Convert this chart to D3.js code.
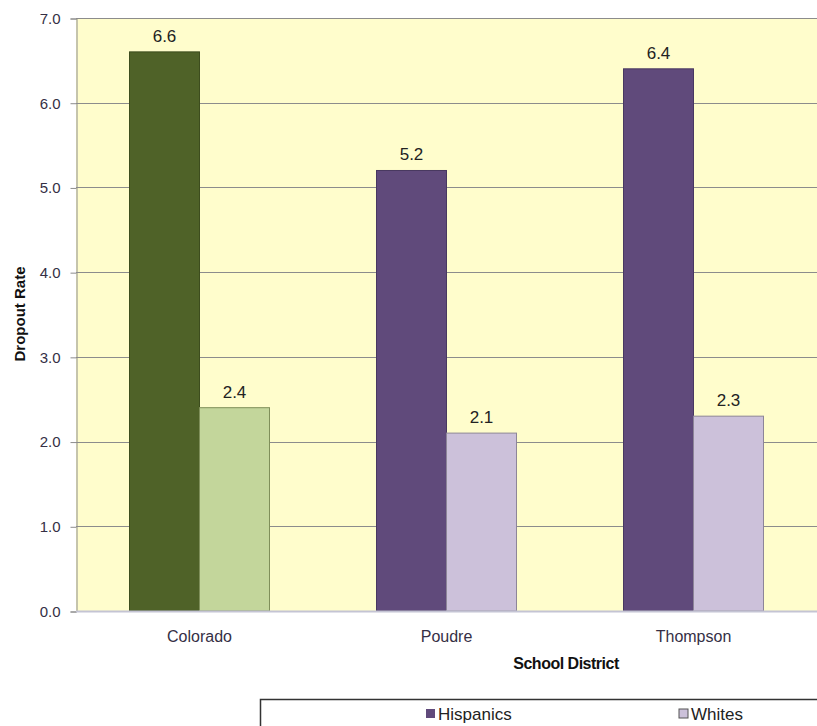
<!DOCTYPE html>
<html><head><meta charset="utf-8">
<script src="https://cdn.jsdelivr.net/npm/d3@7"></script>
<style>body{margin:0;background:#fff}svg{display:block;font-family:Arial,"Liberation Sans",sans-serif}</style>
</head><body><svg id="c" width="817" height="726"></svg>
<script>
const categories = ["Colorado", "Poudre", "Thompson"];
const seriesNames = ["Hispanics", "Whites"];
const hispanics = [6.6, 5.2, 6.4];
const whites = [2.4, 2.1, 2.3];
const yTicks = [0, 1, 2, 3, 4, 5, 6, 7];

const svg = d3.select("#c");
const m = {left: 76, right: 817, top: 18, bottom: 611};
const x = d3.scaleBand().domain(categories).range([m.left, m.right]);
const y = d3.scaleLinear().domain([0, 7]).range([m.bottom, m.top]);
const barW = 70;

svg.append("rect").attr("x", m.left).attr("y", m.top)
  .attr("width", m.right - m.left).attr("height", m.bottom - m.top).attr("fill", "#FFFDCC");

// gridlines
svg.append("g").selectAll("line").data(yTicks.filter(d => d > 0)).join("line")
  .attr("x1", m.left).attr("x2", m.right)
  .attr("y1", d => Math.round(y(d)) + 0.5).attr("y2", d => Math.round(y(d)) + 0.5)
  .attr("stroke", "#8c8c8c").attr("stroke-width", 1);

// y axis
const yAxis = d3.axisLeft(y).tickValues(yTicks).tickFormat(d3.format(".1f")).tickSize(6).tickPadding(10);
const ga = svg.append("g").attr("transform", `translate(${m.left + 0.5},0.5)`).call(yAxis);
ga.select(".domain").attr("stroke", "#8c8c8c");
ga.selectAll(".tick line").attr("stroke", "#8c8c8c");
ga.selectAll("text").attr("font-size", 15).attr("fill", "#352f45").attr("font-family", "Arial,'Liberation Sans',sans-serif");

const colors = {
  Colorado: ["#4F6228", "#C3D69B"],
};
const defaultColors = ["#604A7B", "#CCC1DA"];
const strokeColors = {Colorado: ["#3d4d1e", "#7f8f5a"]};
const defaultStroke = ["#483860", "#8d8598"];

const data = [];
categories.forEach((c, i) => {
  [hispanics[i], whites[i]].forEach((v, j) => {
    data.push({cat: c, j, v});
  });
});

const cx = c => x(c) + x.bandwidth() / 2;
svg.append("g").selectAll("rect").data(data).join("rect")
  .attr("x", d => cx(d.cat) + (d.j === 0 ? -barW : 0))
  .attr("y", d => y(d.v))
  .attr("width", barW)
  .attr("height", d => y(0) - y(d.v))
  .attr("fill", d => (colors[d.cat] || defaultColors)[d.j])
  .attr("stroke", d => (strokeColors[d.cat] || defaultStroke)[d.j])
  .attr("stroke-width", 1);

svg.append("g").selectAll("text").data(data).join("text")
  .attr("x", d => cx(d.cat) + (d.j === 0 ? -barW / 2 : barW / 2))
  .attr("y", d => y(d.v) - 10)
  .attr("text-anchor", "middle").attr("font-size", 17).attr("fill", "#222")
  .text(d => d.v.toFixed(1));

// bottom axis line
svg.append("line").attr("x1", m.left).attr("x2", m.right)
  .attr("y1", m.bottom + 0.5).attr("y2", m.bottom + 0.5).attr("stroke", "#c4c4d4").attr("stroke-width", 2);

// x labels
svg.append("g").selectAll("text").data(categories).join("text")
  .attr("x", d => cx(d)).attr("y", 642).attr("text-anchor", "middle")
  .attr("font-size", 16).attr("fill", "#352f45").text(d => d);

svg.append("text").attr("x", 566).attr("y", 669).attr("text-anchor", "middle")
  .attr("font-size", 16).attr("font-weight", "bold").attr("fill", "#111")
  .attr("letter-spacing", -0.5).text("School District");

svg.append("text").attr("transform", "translate(25,314) rotate(-90)").attr("text-anchor", "middle")
  .attr("font-size", 15).attr("font-weight", "bold").attr("fill", "#111").text("Dropout Rate");

// legend
svg.append("rect").attr("x", 260.5).attr("y", 699.5).attr("width", 600).attr("height", 60)
  .attr("fill", "#fff").attr("stroke", "#333").attr("stroke-width", 1.5);
const legX = [426, 679];
const lg = svg.append("g").selectAll("g").data(seriesNames).join("g")
  .attr("transform", (d, i) => `translate(${legX[i]},709)`);
lg.append("rect").attr("width", 9).attr("height", 9)
  .attr("fill", (d, i) => defaultColors[i]).attr("stroke", (d, i) => i ? "#555" : "none");
lg.append("text").attr("x", 12).attr("y", 11).attr("font-size", 17).attr("fill", "#222").text(d => d);
</script></body></html>
